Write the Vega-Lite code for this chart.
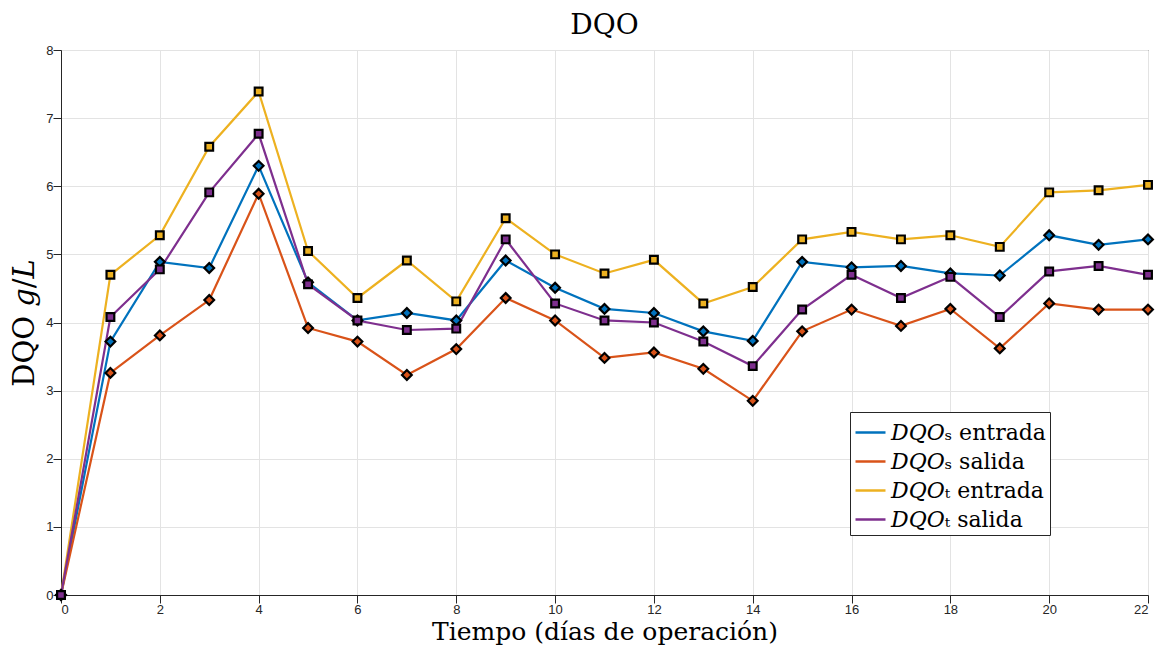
{
  "$schema": "https://vega.github.io/schema/vega-lite/v6.json",
  "autosize": {"type": "none"},
  "width": 1087,
  "height": 545,
  "padding": {"left": 61, "top": 50, "right": 10, "bottom": 55},
  "background": "white",
  "title": {"text": "DQO", "font": "DejaVu Serif", "fontSize": 28, "fontWeight": "normal", "color": "black", "offset": 4},
  "config": {
    "view": {"stroke": "#262626", "strokeWidth": 1},
    "axis": {
      "labelFont": "Liberation Sans", "labelFontSize": 13, "labelColor": "#262626",
      "domainColor": "#262626", "tickColor": "#262626", "tickSize": 8, "tickWidth": 1, "labelPadding": 0,
      "gridColor": "#e3e3e3", "gridWidth": 1,
      "titleFont": "DejaVu Serif", "titleFontWeight": "normal", "titleColor": "black"
    }
  },
  "data": {"values": [
    {"dia":0,"serie":"𝐷𝑄𝑂ₛ entrada","valor":0},{"dia":1,"serie":"𝐷𝑄𝑂ₛ entrada","valor":3.72},{"dia":2,"serie":"𝐷𝑄𝑂ₛ entrada","valor":4.89},{"dia":3,"serie":"𝐷𝑄𝑂ₛ entrada","valor":4.80},{"dia":4,"serie":"𝐷𝑄𝑂ₛ entrada","valor":6.30},{"dia":5,"serie":"𝐷𝑄𝑂ₛ entrada","valor":4.59},{"dia":6,"serie":"𝐷𝑄𝑂ₛ entrada","valor":4.03},{"dia":7,"serie":"𝐷𝑄𝑂ₛ entrada","valor":4.14},{"dia":8,"serie":"𝐷𝑄𝑂ₛ entrada","valor":4.03},{"dia":9,"serie":"𝐷𝑄𝑂ₛ entrada","valor":4.91},{"dia":10,"serie":"𝐷𝑄𝑂ₛ entrada","valor":4.51},{"dia":11,"serie":"𝐷𝑄𝑂ₛ entrada","valor":4.20},{"dia":12,"serie":"𝐷𝑄𝑂ₛ entrada","valor":4.14},{"dia":13,"serie":"𝐷𝑄𝑂ₛ entrada","valor":3.87},{"dia":14,"serie":"𝐷𝑄𝑂ₛ entrada","valor":3.73},{"dia":15,"serie":"𝐷𝑄𝑂ₛ entrada","valor":4.89},{"dia":16,"serie":"𝐷𝑄𝑂ₛ entrada","valor":4.81},{"dia":17,"serie":"𝐷𝑄𝑂ₛ entrada","valor":4.83},{"dia":18,"serie":"𝐷𝑄𝑂ₛ entrada","valor":4.72},{"dia":19,"serie":"𝐷𝑄𝑂ₛ entrada","valor":4.69},{"dia":20,"serie":"𝐷𝑄𝑂ₛ entrada","valor":5.28},{"dia":21,"serie":"𝐷𝑄𝑂ₛ entrada","valor":5.14},{"dia":22,"serie":"𝐷𝑄𝑂ₛ entrada","valor":5.22},
    {"dia":0,"serie":"𝐷𝑄𝑂ₛ salida","valor":0},{"dia":1,"serie":"𝐷𝑄𝑂ₛ salida","valor":3.26},{"dia":2,"serie":"𝐷𝑄𝑂ₛ salida","valor":3.81},{"dia":3,"serie":"𝐷𝑄𝑂ₛ salida","valor":4.33},{"dia":4,"serie":"𝐷𝑄𝑂ₛ salida","valor":5.89},{"dia":5,"serie":"𝐷𝑄𝑂ₛ salida","valor":3.92},{"dia":6,"serie":"𝐷𝑄𝑂ₛ salida","valor":3.72},{"dia":7,"serie":"𝐷𝑄𝑂ₛ salida","valor":3.23},{"dia":8,"serie":"𝐷𝑄𝑂ₛ salida","valor":3.61},{"dia":9,"serie":"𝐷𝑄𝑂ₛ salida","valor":4.36},{"dia":10,"serie":"𝐷𝑄𝑂ₛ salida","valor":4.03},{"dia":11,"serie":"𝐷𝑄𝑂ₛ salida","valor":3.48},{"dia":12,"serie":"𝐷𝑄𝑂ₛ salida","valor":3.56},{"dia":13,"serie":"𝐷𝑄𝑂ₛ salida","valor":3.32},{"dia":14,"serie":"𝐷𝑄𝑂ₛ salida","valor":2.85},{"dia":15,"serie":"𝐷𝑄𝑂ₛ salida","valor":3.87},{"dia":16,"serie":"𝐷𝑄𝑂ₛ salida","valor":4.19},{"dia":17,"serie":"𝐷𝑄𝑂ₛ salida","valor":3.95},{"dia":18,"serie":"𝐷𝑄𝑂ₛ salida","valor":4.20},{"dia":19,"serie":"𝐷𝑄𝑂ₛ salida","valor":3.62},{"dia":20,"serie":"𝐷𝑄𝑂ₛ salida","valor":4.28},{"dia":21,"serie":"𝐷𝑄𝑂ₛ salida","valor":4.19},{"dia":22,"serie":"𝐷𝑄𝑂ₛ salida","valor":4.19},
    {"dia":0,"serie":"𝐷𝑄𝑂ₜ entrada","valor":0},{"dia":1,"serie":"𝐷𝑄𝑂ₜ entrada","valor":4.70},{"dia":2,"serie":"𝐷𝑄𝑂ₜ entrada","valor":5.28},{"dia":3,"serie":"𝐷𝑄𝑂ₜ entrada","valor":6.58},{"dia":4,"serie":"𝐷𝑄𝑂ₜ entrada","valor":7.39},{"dia":5,"serie":"𝐷𝑄𝑂ₜ entrada","valor":5.05},{"dia":6,"serie":"𝐷𝑄𝑂ₜ entrada","valor":4.36},{"dia":7,"serie":"𝐷𝑄𝑂ₜ entrada","valor":4.91},{"dia":8,"serie":"𝐷𝑄𝑂ₜ entrada","valor":4.31},{"dia":9,"serie":"𝐷𝑄𝑂ₜ entrada","valor":5.53},{"dia":10,"serie":"𝐷𝑄𝑂ₜ entrada","valor":5.00},{"dia":11,"serie":"𝐷𝑄𝑂ₜ entrada","valor":4.72},{"dia":12,"serie":"𝐷𝑄𝑂ₜ entrada","valor":4.92},{"dia":13,"serie":"𝐷𝑄𝑂ₜ entrada","valor":4.28},{"dia":14,"serie":"𝐷𝑄𝑂ₜ entrada","valor":4.52},{"dia":15,"serie":"𝐷𝑄𝑂ₜ entrada","valor":5.22},{"dia":16,"serie":"𝐷𝑄𝑂ₜ entrada","valor":5.33},{"dia":17,"serie":"𝐷𝑄𝑂ₜ entrada","valor":5.22},{"dia":18,"serie":"𝐷𝑄𝑂ₜ entrada","valor":5.28},{"dia":19,"serie":"𝐷𝑄𝑂ₜ entrada","valor":5.11},{"dia":20,"serie":"𝐷𝑄𝑂ₜ entrada","valor":5.91},{"dia":21,"serie":"𝐷𝑄𝑂ₜ entrada","valor":5.94},{"dia":22,"serie":"𝐷𝑄𝑂ₜ entrada","valor":6.02},
    {"dia":0,"serie":"𝐷𝑄𝑂ₜ salida","valor":0},{"dia":1,"serie":"𝐷𝑄𝑂ₜ salida","valor":4.08},{"dia":2,"serie":"𝐷𝑄𝑂ₜ salida","valor":4.78},{"dia":3,"serie":"𝐷𝑄𝑂ₜ salida","valor":5.91},{"dia":4,"serie":"𝐷𝑄𝑂ₜ salida","valor":6.77},{"dia":5,"serie":"𝐷𝑄𝑂ₜ salida","valor":4.56},{"dia":6,"serie":"𝐷𝑄𝑂ₜ salida","valor":4.03},{"dia":7,"serie":"𝐷𝑄𝑂ₜ salida","valor":3.89},{"dia":8,"serie":"𝐷𝑄𝑂ₜ salida","valor":3.91},{"dia":9,"serie":"𝐷𝑄𝑂ₜ salida","valor":5.22},{"dia":10,"serie":"𝐷𝑄𝑂ₜ salida","valor":4.28},{"dia":11,"serie":"𝐷𝑄𝑂ₜ salida","valor":4.03},{"dia":12,"serie":"𝐷𝑄𝑂ₜ salida","valor":4.00},{"dia":13,"serie":"𝐷𝑄𝑂ₜ salida","valor":3.72},{"dia":14,"serie":"𝐷𝑄𝑂ₜ salida","valor":3.36},{"dia":15,"serie":"𝐷𝑄𝑂ₜ salida","valor":4.19},{"dia":16,"serie":"𝐷𝑄𝑂ₜ salida","valor":4.70},{"dia":17,"serie":"𝐷𝑄𝑂ₜ salida","valor":4.36},{"dia":18,"serie":"𝐷𝑄𝑂ₜ salida","valor":4.67},{"dia":19,"serie":"𝐷𝑄𝑂ₜ salida","valor":4.08},{"dia":20,"serie":"𝐷𝑄𝑂ₜ salida","valor":4.75},{"dia":21,"serie":"𝐷𝑄𝑂ₜ salida","valor":4.83},{"dia":22,"serie":"𝐷𝑄𝑂ₜ salida","valor":4.70}
  ]},
  "encoding": {
    "x": {"field": "dia", "type": "quantitative", "scale": {"domain": [0, 22], "nice": false},
      "axis": {"values": [0,2,4,6,8,10,12,14,16,18,20,22], "title": "Tiempo (días de operación)", "titleFontSize": 25, "titlePadding": 3,
        "encode": {"ticks": {"update": {"y2": {"value": -8}}}}}},
    "y": {"field": "valor", "type": "quantitative", "scale": {"domain": [0, 8], "nice": false},
      "axis": {"values": [0,1,2,3,4,5,6,7,8], "title": "DQO 𝑔/𝐿", "titleFontSize": 29, "titlePadding": 6,
        "encode": {"ticks": {"update": {"x2": {"value": 8}}}}}}
  },
  "layer": [
    {
      "mark": {"type": "line", "strokeWidth": 2.2},
      "encoding": {
        "color": {"field": "serie", "type": "nominal",
          "scale": {"domain": ["𝐷𝑄𝑂ₛ entrada","𝐷𝑄𝑂ₛ salida","𝐷𝑄𝑂ₜ entrada","𝐷𝑄𝑂ₜ salida"], "range": ["#0072BD","#D95319","#EDB120","#7E2F8E"]},
          "legend": {"title": null, "orient": "none", "legendX": 789, "legendY": 362,
            "symbolType": "stroke", "symbolSize": 900, "symbolStrokeWidth": 2.5,
            "labelFont": "DejaVu Serif", "labelFontSize": 22, "labelColor": "black", "labelLimit": 400,
            "fillColor": "white", "strokeColor": "#262626", "padding": 4, "rowPadding": 1, "labelOffset": 4}}
      }
    },
    {
      "mark": {"type": "point", "filled": false, "strokeWidth": 2.2, "stroke": "black", "opacity": 1, "strokeOpacity": 1, "fillOpacity": 1},
      "encoding": {
        "fill": {"condition": [
          {"test": "datum.serie === '𝐷𝑄𝑂ₛ entrada'", "value": "#0072BD"},
          {"test": "datum.serie === '𝐷𝑄𝑂ₛ salida'", "value": "#D95319"},
          {"test": "datum.serie === '𝐷𝑄𝑂ₜ entrada'", "value": "#EDB120"}], "value": "#7E2F8E"},
        "shape": {"condition": {"test": "indexof(datum.serie, 'ₛ') >= 0", "value": "diamond"}, "value": "square"},
        "size": {"condition": {"test": "indexof(datum.serie, 'ₛ') >= 0", "value": 95}, "value": 60}
      }
    }
  ]
}
